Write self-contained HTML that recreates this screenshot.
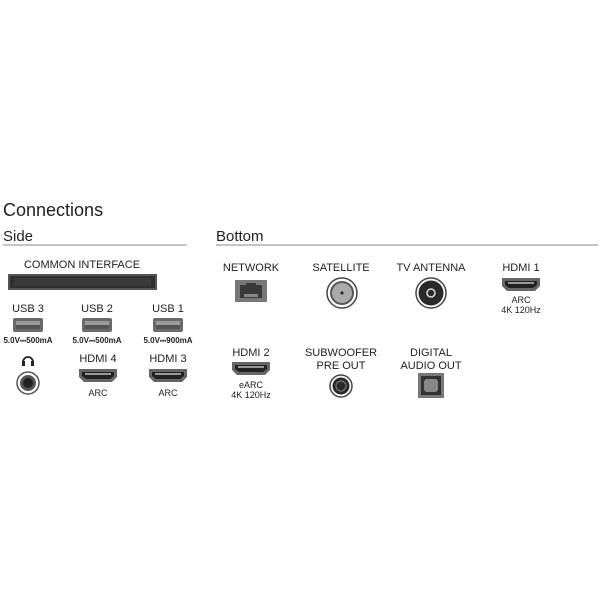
<!DOCTYPE html>
<html><head><style>
html,body{margin:0;padding:0;background:#fff;}
svg text{font-family:"Liberation Sans",sans-serif;fill:#222;}
</style></head><body>
<svg width="600" height="600" viewBox="0 0 600 600" xmlns="http://www.w3.org/2000/svg">
<defs>
<g id="usb"><rect x="-15" y="0" width="30" height="14" rx="2" fill="#6a6a6a"/><rect x="-12" y="3" width="24" height="8" fill="#9a9a9a"/><rect x="-12" y="7" width="24" height="4" fill="#555"/></g>
<g id="hdmi"><path d="M-19,0 H19 V8 L14,13 H-14 L-19,8 Z" fill="#666"/><path d="M-16,3 H16 V7 L12,10 H-12 L-16,7 Z" fill="#222"/><rect x="-13" y="4" width="26" height="2" fill="#999"/></g>
</defs>
<text x="3" y="216" font-size="18" fill="#444">Connections</text>
<text x="3" y="241" font-size="15" fill="#333">Side</text>
<line x1="3" y1="245" x2="187" y2="245" stroke="#888" stroke-width="1"/>
<text x="216" y="241" font-size="15" fill="#333">Bottom</text>
<line x1="216" y1="245" x2="598" y2="245" stroke="#888" stroke-width="1"/>

<g font-size="11" text-anchor="middle">
<text x="82" y="268">COMMON INTERFACE</text>
<text x="28" y="312">USB 3</text><text x="97" y="312">USB 2</text><text x="168" y="312">USB 1</text>
<text x="98" y="362">HDMI 4</text><text x="168" y="362">HDMI 3</text>
<text x="251" y="271">NETWORK</text><text x="341" y="271">SATELLITE</text><text x="431" y="271">TV ANTENNA</text><text x="521" y="271">HDMI 1</text>
<text x="251" y="356">HDMI 2</text><text x="341" y="356">SUBWOOFER</text><text x="341" y="369">PRE OUT</text>
<text x="431" y="356">DIGITAL</text><text x="431" y="369">AUDIO OUT</text>
</g>
<g font-size="8" font-weight="bold" text-anchor="middle">
<text x="28" y="343">5.0V⎓500mA</text><text x="97" y="343">5.0V⎓500mA</text><text x="168" y="343">5.0V⎓900mA</text>
</g>
<g font-size="9" text-anchor="middle">
<text x="98" y="396">ARC</text><text x="168" y="396">ARC</text>
<text x="521" y="303">ARC</text><text x="521" y="313">4K 120Hz</text>
<text x="251" y="388">eARC</text><text x="251" y="398">4K 120Hz</text>
</g>

<rect x="8" y="274" width="149" height="16" fill="#555"/><rect x="10" y="276" width="145" height="12" fill="#2f2f2f"/><rect x="14" y="278" width="137" height="8" fill="#3a3a3a"/>

<use href="#usb" x="28" y="318"/><use href="#usb" x="97" y="318"/><use href="#usb" x="168" y="318"/>
<use href="#hdmi" x="98" y="369"/><use href="#hdmi" x="168" y="369"/>
<use href="#hdmi" x="521" y="278"/><use href="#hdmi" x="251" y="362"/>

<path d="M23,362 a5,5 0 0 1 10,0" fill="none" stroke="#222" stroke-width="1.8"/><rect x="22" y="361" width="3" height="5" fill="#222"/><rect x="31" y="361" width="3" height="5" fill="#222"/>
<circle cx="28" cy="383" r="11" fill="#fff" stroke="#555" stroke-width="1.5"/><circle cx="28" cy="383" r="8" fill="#555"/><circle cx="28" cy="383" r="5" fill="#222"/>

<rect x="235" y="280" width="32" height="22" fill="#777"/><path d="M240,285 H246 V283 H256 V285 H262 V298 H240 Z" fill="#3a3a3a"/><rect x="244" y="294" width="14" height="3" fill="#888"/>
<circle cx="342" cy="293" r="15" fill="#fff" stroke="#444" stroke-width="1.5"/><circle cx="342" cy="293" r="12" fill="#555"/><circle cx="342" cy="293" r="10" fill="#aaa"/><circle cx="342" cy="293" r="1.5" fill="#222"/>
<circle cx="431" cy="293" r="15" fill="#fff" stroke="#444" stroke-width="1.5"/><circle cx="431" cy="293" r="12.5" fill="#2a2a2a"/><circle cx="431" cy="293" r="4" fill="none" stroke="#ddd" stroke-width="1.5"/>
<circle cx="341" cy="386" r="11" fill="#fff" stroke="#444" stroke-width="1.5"/><circle cx="341" cy="386" r="8.5" fill="#2a2a2a"/><circle cx="341" cy="386" r="5" fill="none" stroke="#777" stroke-width="1.2"/>
<rect x="418" y="373" width="26" height="25" fill="#777"/><rect x="421" y="376" width="20" height="19" fill="#333"/><path d="M426,379 H436 L438,381 V390 L436,392 H426 L424,390 V381 Z" fill="#888"/>
</svg>
</body></html>
